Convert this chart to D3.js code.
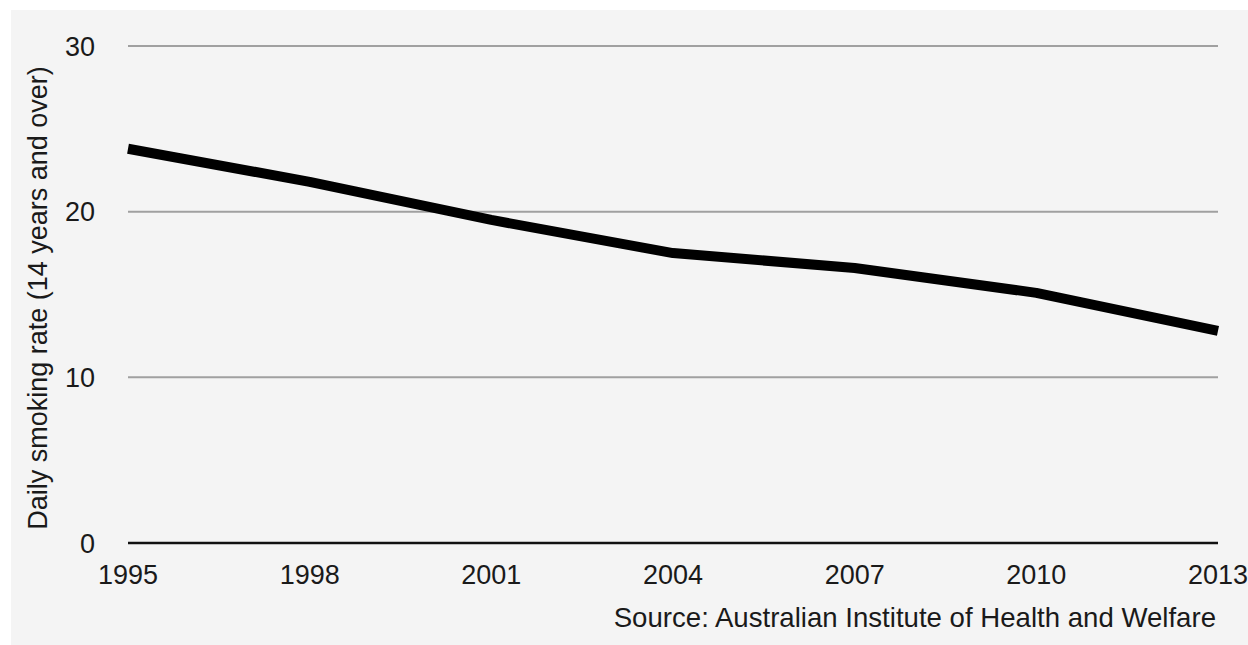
<!DOCTYPE html>
<html>
<head>
<meta charset="utf-8">
<script src="https://cdn.jsdelivr.net/npm/d3@7"></script>
<style>
  body { margin: 0; background: #fff; }
  text { font-family: "Liberation Sans", Arial, Helvetica, sans-serif; fill: #1a1a1a; }
</style>
</head>
<body>
<div id="chart"></div>
<script>
// data: AIHW daily smoking rate, 14 years and over
const years = [1995, 1998, 2001, 2004, 2007, 2010, 2013];
const rates = [23.8, 21.8, 19.5, 17.5, 16.6, 15.1, 12.8];
const yTicks = [0, 10, 20, 30];

const width = 1248, height = 645;
const margin = {left: 128, right: 30, top: 46, bottom: 102};

const svg = d3.select("#chart")
  .append("svg")
  .attr("width", width)
  .attr("height", height);

// grey panel
svg.append("rect")
  .attr("x", 11).attr("y", 10)
  .attr("width", width - 11).attr("height", height - 10)
  .attr("fill", "#f4f4f4");

const x = d3.scaleLinear()
  .domain([1995, 2013])
  .range([margin.left, width - margin.right]);

const y = d3.scaleLinear()
  .domain([0, 30])
  .range([height - margin.bottom, margin.top]);

// gridlines
svg.selectAll(".grid")
  .data(yTicks.filter(d => d > 0))
  .enter()
  .append("line")
  .attr("x1", x(1995)).attr("x2", x(2013))
  .attr("y1", d => y(d)).attr("y2", d => y(d))
  .attr("stroke", "#a0a0a0")
  .attr("stroke-width", 2);

// baseline
svg.append("line")
  .attr("x1", x(1995)).attr("x2", x(2013))
  .attr("y1", y(0)).attr("y2", y(0))
  .attr("stroke", "#111")
  .attr("stroke-width", 2.5);

// y tick labels
svg.selectAll(".ylab")
  .data(yTicks)
  .enter()
  .append("text")
  .attr("x", 95)
  .attr("y", d => y(d))
  .attr("dy", "0.36em")
  .attr("text-anchor", "end")
  .attr("font-size", 27)
  .text(d => d);

// x tick labels
svg.selectAll(".xlab")
  .data(years)
  .enter()
  .append("text")
  .attr("x", d => x(d))
  .attr("y", 584)
  .attr("text-anchor", "middle")
  .attr("font-size", 27)
  .text(d => d);

// y axis title
svg.append("text")
  .attr("transform", "translate(47,298) rotate(-90)")
  .attr("text-anchor", "middle")
  .attr("font-size", 27)
  .text("Daily smoking rate (14 years and over)");

// source
svg.append("text")
  .attr("x", 1216)
  .attr("y", 627)
  .attr("text-anchor", "end")
  .attr("font-size", 27.6)
  .text("Source: Australian Institute of Health and Welfare");

// the line
const line = d3.line()
  .x((d, i) => x(years[i]))
  .y(d => y(d));

svg.append("path")
  .datum(rates)
  .attr("d", line)
  .attr("fill", "none")
  .attr("stroke", "#000")
  .attr("stroke-width", 10)
  .attr("stroke-linejoin", "round");
</script>
</body>
</html>
